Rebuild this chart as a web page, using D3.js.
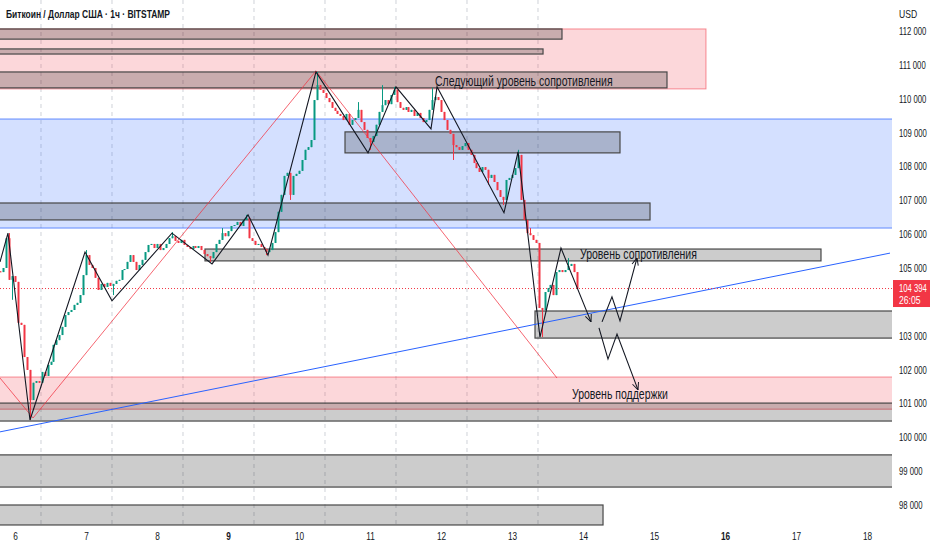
<!DOCTYPE html>
<html>
<head>
<meta charset="utf-8">
<script src="https://cdn.jsdelivr.net/npm/d3@7"></script>
<style>
  html, body { margin: 0; padding: 0; background: #fff; }
  svg { display: block; }
  text { font-family: "Liberation Sans", Arial, sans-serif; fill: #131722; }
</style>
</head>
<body>
<svg id="chart" width="932" height="550"></svg>
<script>
var symbolTitle = "Биткоин / Доллар США · 1ч · BITSTAMP";
var currency = "USD";

// hourly candles, first one opens 2025-06-05 19:00 UTC
var firstCandle = new Date("2025-06-05T19:00:00Z");
var firstOpen = 104900;
var closes = [
  104880, 105000, 105880, 104650, 104760, 104590, 103380, 103320, 102370, 101990, 101100, 101610,
  101660, 101610, 101930, 101810, 102140, 102230, 102730, 102870, 103020, 103260, 103610, 103700,
  103760, 103910, 103970, 104200, 104790, 105380, 105090, 105000, 104710, 104350, 104530, 104440,
  104560, 104470, 104530, 104620, 104650, 104940, 104970, 105180, 105380, 105180, 104940, 105090,
  105240, 105470, 105680, 105710, 105590, 105710, 105530, 105590, 105710, 105880, 105940, 105800,
  105740, 105830, 105680, 105620, 105560, 105650, 105590, 105650, 105530, 105410, 105350, 105290,
  105470, 105710, 105830, 106030, 105940, 106090, 106240, 106270, 106360, 106240, 106420, 106480,
  105880, 105800, 105680, 105710, 105620, 105560, 105470, 105530, 105740, 106060, 106660, 107160,
  107720, 107810, 107160, 107720, 107780, 107870, 108190, 108490, 108570, 108780, 109960, 110400,
  110260, 110170, 110020, 109900, 109730, 109640, 109550, 109490, 109370, 109550, 109230, 109370,
  109430, 109670, 109310, 109080, 108840, 108720, 108900, 109230, 109610, 109810, 109960, 109840,
  110110, 110260, 109900, 109730, 109670, 109750, 109610, 109670, 109490, 109580, 109430, 109310,
  109370, 109670, 109960, 110050, 109960, 109610, 109370, 109080, 108960, 108630, 108570, 108490,
  108600, 108690, 108490, 108340, 108100, 107950, 107840, 107980, 107900, 107660, 107750, 107540,
  107300, 107100, 107010, 107600, 107660, 107750, 107950, 108340, 107010, 106420, 106030, 105970,
  105830, 105740, 103820, 103760, 104290, 104410, 104500, 104200, 104880, 104940, 104880, 104940,
  105060, 105120, 104880, 104394
];
// [candle index, high, low] where a wick sticks out of the body
var wicks = [
  [3, 106030, null], [4, null, 104060], [10, null, 100510], [29, 105530, null], [38, null, 104200],
  [58, 106060, null], [71, null, 105180], [75, 106180, null], [83, 106570, null], [90, null, 105380],
  [98, null, 107010], [107, 110790, null], [121, 109900, null], [125, null, 108490], [129, 110400, null],
  [133, 110350, null], [146, 110320, null], [153, null, 108190], [165, null, 107460], [170, null, 106860],
  [175, 108490, null], [179, 106180, null], [183, null, 102960], [192, 105290, null]
];

// 104 000 sits under the last price tag
var priceTicks = [98000, 99000, 100000, 101000, 102000, 103000, 105000,
                  106000, 107000, 108000, 109000, 110000, 111000, 112000];
var lastPrice = 104394;
var countdown = "26:05";
var breakDays = [6, 7, 8, 9, 10, 11, 12, 13];

// drawings: [from day, to day, top price, bottom price]
var pinkZones = [[5.5, 15.732, 112060, 110290], [5.5, 19, 101780, 100830]];
var blueZones = [[5.5, 19, 109400, 106180]];
var grayBars = [
  [5.5, 13.704, 112060, 111760],
  [5.5, 13.437, 111470, 111320],
  [5.5, 15.183, 110790, 110320],
  [10.648, 14.521, 109020, 108400],
  [5.5, 14.944, 106920, 106420],
  [8.676, 17.352, 105560, 105210],
  [13.324, 19, 103730, 102930],
  [5.5, 19, 101010, 100480],
  [5.5, 19, 99480, 98530],
  [5.5, 14.282, 98000, 97410]
];
var trendLine = [[5.789, 100160], [18.324, 105440]];
var redWave = [[5.789, 101750], [6.254, 100570], [10.239, 110820], [13.634, 101750]];
var blackWave = [
  [5.789, 105180], [5.901, 106030], [6.211, 100510], [6.986, 105470], [7.366, 104030],
  [8.211, 106030], [8.775, 105120], [9.282, 106570], [9.563, 105380], [10.239, 110790],
  [10.972, 108400], [11.366, 110350], [11.859, 109110], [11.944, 110350], [12.887, 106630],
  [13.085, 108430], [13.394, 102960], [13.690, 105590], [14.113, 103410]
];
var upScenario = [[14.268, 103410], [14.408, 104150], [14.521, 103440], [14.761, 105300]];
var downScenario = [[14.225, 103230], [14.352, 102310], [14.479, 103050], [14.775, 101400]];
var notes = [
  ["Следующий уровень сопротивления", 11.915, 110375],
  ["Уровень сопротивления", 13.958, 105267],
  ["Уровень поддержки", 13.845, 101132]
];

var W = 932, H = 550, plotW = 892, plotH = 527;
var svg = d3.select("#chart");

function day(d) { return new Date(Date.UTC(2025, 4, 31) + d * 864e5); }

// the screenshot is squeezed sideways, so glyphs are narrowed round their anchor
function squeeze(sel, k) {
  sel.each(function() {
    var x0 = +this.getAttribute("x") || 0;
    d3.select(this).attr("transform",
      "translate(" + x0 + ",0) scale(" + k + ",1) translate(" + (-x0) + ",0)");
  });
}

var x = d3.scaleUtc().domain([day(6), day(18)]).range([15, 867]);
var y = d3.scaleLinear().domain([98000, 112000]).range([505, 31]);

svg.append("defs").append("clipPath").attr("id", "plot")
  .append("rect").attr("width", plotW).attr("height", plotH);

svg.select("defs").append("marker")
  .attr("id", "arrow").attr("viewBox", "0 0 10 10")
  .attr("refX", 10).attr("refY", 5)
  .attr("markerWidth", 8).attr("markerHeight", 8)
  .attr("markerUnits", "userSpaceOnUse").attr("orient", "auto")
  .append("path").attr("d", "M1,1L10,5L1,9")
  .attr("fill", "none").attr("stroke", "#131722").attr("stroke-width", 1.2);

var plot = svg.append("g").attr("clip-path", "url(#plot)");

// session breaks
plot.selectAll(".brk").data(breakDays).enter().append("line")
  .attr("x1", function(d) { return x(day(d + 0.366)); })
  .attr("x2", function(d) { return x(day(d + 0.366)); })
  .attr("y1", 0).attr("y2", plotH)
  .attr("stroke", "#cfd2d8").attr("stroke-dasharray", "4,4").attr("stroke-width", 1);

function box(sel, data, fill, stroke, sw) {
  sel.selectAll(null).data(data).enter().append("rect")
    .attr("x", function(d) { return x(day(d[0])); })
    .attr("width", function(d) { return x(day(d[1])) - x(day(d[0])); })
    .attr("y", function(d) { return y(d[2]); })
    .attr("height", function(d) { return y(d[3]) - y(d[2]); })
    .attr("fill", fill).attr("stroke", stroke).attr("stroke-width", sw);
}

box(plot, pinkZones, "rgba(242,54,69,0.2)", "rgba(242,54,69,0.55)", 1);
box(plot, blueZones, "rgba(41,98,255,0.2)", "rgba(41,98,255,0.55)", 1.3);
box(plot, grayBars, "rgba(0,0,0,0.2)", "#474747", 1.2);

var line = d3.line()
  .x(function(d) { return x(day(d[0])); })
  .y(function(d) { return y(d[1]); });

plot.append("path").attr("d", line(trendLine))
  .attr("fill", "none").attr("stroke", "#2962ff").attr("stroke-width", 1);
plot.append("path").attr("d", line(redWave))
  .attr("fill", "none").attr("stroke", "#f23645").attr("stroke-width", 0.9).attr("opacity", 0.85);

// last price line
plot.append("line").attr("x1", 0).attr("x2", plotW)
  .attr("y1", y(lastPrice)).attr("y2", y(lastPrice))
  .attr("stroke", "#f23645").attr("stroke-dasharray", "1,2").attr("stroke-width", 1);

// candles
var candles = closes.map(function(c, i) {
  var o = i ? closes[i - 1] : firstOpen;
  return { t: d3.utcHour.offset(firstCandle, i), o: o, c: c, h: Math.max(o, c), l: Math.min(o, c) };
});
wicks.forEach(function(w) {
  if (w[1] !== null) candles[w[0]].h = w[1];
  if (w[2] !== null) candles[w[0]].l = w[2];
});

var cg = plot.append("g");
cg.selectAll("line").data(candles).enter().append("line")
  .attr("x1", function(d) { return Math.round(x(d.t)) + 0.5; })
  .attr("x2", function(d) { return Math.round(x(d.t)) + 0.5; })
  .attr("y1", function(d) { return y(d.h); })
  .attr("y2", function(d) { return y(d.l); })
  .attr("stroke", function(d) { return d.c >= d.o ? "#089981" : "#f23645"; });
cg.selectAll("rect").data(candles).enter().append("rect")
  .attr("x", function(d) { return Math.round(x(d.t)) - 0.5; })
  .attr("width", 2)
  .attr("y", function(d) { return y(Math.max(d.o, d.c)); })
  .attr("height", function(d) { return Math.max(1, y(Math.min(d.o, d.c)) - y(Math.max(d.o, d.c))); })
  .attr("fill", function(d) { return d.c >= d.o ? "#089981" : "#f23645"; });

plot.append("path").attr("d", line(blackWave))
  .attr("fill", "none").attr("stroke", "#131722").attr("stroke-width", 1.1)
  .attr("marker-end", "url(#arrow)");
[upScenario, downScenario].forEach(function(s) {
  plot.append("path").attr("d", line(s))
    .attr("fill", "none").attr("stroke", "#131722").attr("stroke-width", 1.1)
    .attr("marker-end", "url(#arrow)");
});

plot.selectAll(".note").data(notes).enter().append("text")
  .attr("x", function(d) { return x(day(d[1])); })
  .attr("y", function(d) { return y(d[2]); })
  .attr("font-size", 14)
  .text(function(d) { return d[0]; })
  .call(squeeze, 0.75);

// axes
var fmt = d3.formatLocale({ decimal: ".", thousands: " ", grouping: [3] }).format(",");

var yAxis = svg.append("g").attr("transform", "translate(" + plotW + ",0)")
  .call(d3.axisRight(y).tickValues(priceTicks).tickFormat(fmt).tickSize(0).tickPadding(7));
yAxis.select(".domain").remove();
yAxis.selectAll("text").attr("font-size", 11).attr("font-family", null).attr("fill", "#131722")
  .call(squeeze, 0.7);

var xAxis = svg.append("g").attr("transform", "translate(0," + plotH + ")")
  .call(d3.axisBottom(x).ticks(d3.utcDay.every(1)).tickFormat(d3.utcFormat("%-d")).tickSize(0).tickPadding(5));
xAxis.select(".domain").remove();
xAxis.selectAll("text").attr("font-size", 11).attr("font-family", null).attr("fill", "#131722")
  .attr("font-weight", function(d) { return d.getUTCDay() === 1 ? "bold" : null; })
  .call(squeeze, 0.75);

// currency header over the top label
svg.append("rect").attr("x", plotW + 2).attr("y", 2).attr("width", W - plotW - 4).attr("height", 25)
  .attr("fill", "#fff");
svg.append("text").attr("x", 899).attr("y", 18).attr("font-size", 11).text(currency)
  .call(squeeze, 0.78);

// last price tag
var py = y(lastPrice);
svg.append("rect").attr("x", plotW + 1).attr("y", py - 8.5).attr("width", 37).attr("height", 27)
  .attr("fill", "#f23645");
svg.append("text").attr("x", 899).attr("y", py + 3.5).attr("font-size", 11)
  .style("fill", "#fff").text(fmt(lastPrice)).call(squeeze, 0.7);
svg.append("text").attr("x", 899).attr("y", py + 15).attr("font-size", 11)
  .style("fill", "#fff").text(countdown).call(squeeze, 0.78);

svg.append("text").attr("x", 6).attr("y", 18).attr("font-size", 11).attr("font-weight", "bold")
  .text(symbolTitle).call(squeeze, 0.77);
</script>
</body>
</html>
